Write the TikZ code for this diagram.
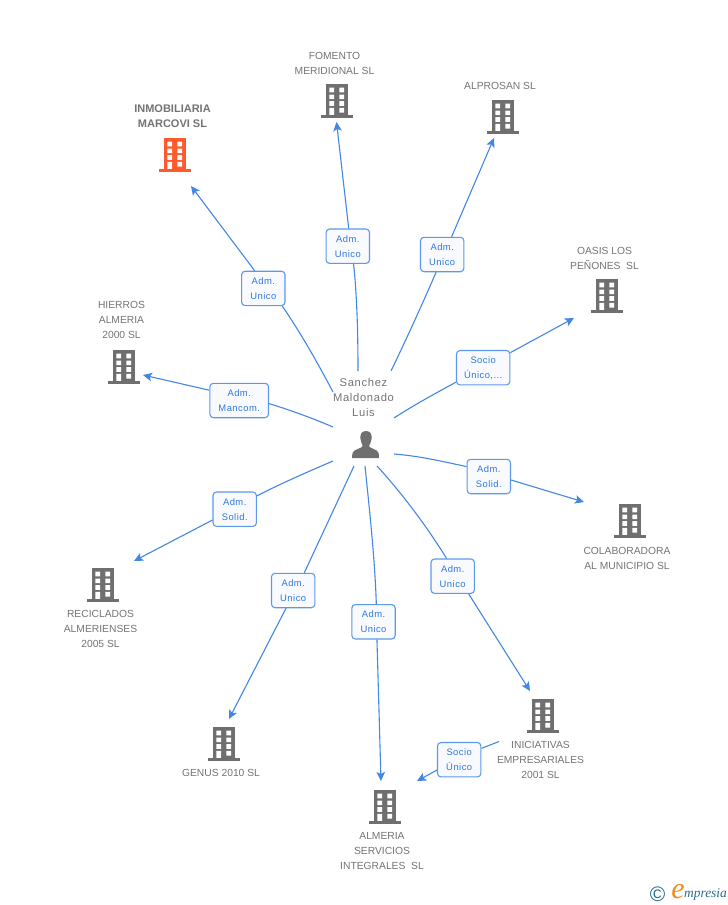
\documentclass[tikz,border=0pt]{standalone}
\usepackage{fontspec}
\usetikzlibrary{arrows.meta}
\setmainfont{Liberation Sans}
\newfontfamily\lblfont[LetterSpace=5]{Liberation Sans}
\newfontfamily\prsfont[LetterSpace=6]{Liberation Sans}
\newfontfamily\logofont{Liberation Serif}
\definecolor{linkblue}{HTML}{4286E6}
\definecolor{lbltext}{HTML}{2F78DC}
\definecolor{boxfill}{HTML}{F8FAFE}
\definecolor{grayicon}{HTML}{6F6F6F}
\definecolor{grtext}{HTML}{737373}
\definecolor{orangeicon}{HTML}{FF5A2C}
\definecolor{logoteal}{HTML}{2A6C86}
\definecolor{logoorange}{HTML}{F28A1E}
\tikzset{
  x=1pt,y=-1pt,
  conn/.style={draw=linkblue,line width=1.1pt},
  arr/.style={conn,-{Stealth[length=9pt,width=8.5pt,inset=2pt]}},
  rel/.style={draw=linkblue!85,fill=boxfill,rounded corners=3.5pt,line width=1.1pt,minimum width=43.4pt,minimum height=34.4pt,inner sep=0pt,align=center,text=lbltext,font=\lblfont\fontsize{9.4}{15}\selectfont},
  comp/.style={align=center,text=grtext,inner sep=0pt,font=\fontsize{10.3}{15}\selectfont},
  mainc/.style={comp,font=\bfseries\fontsize{11}{15}\selectfont},
  bld/.pic={
    \fill[pic actions] (-11.2,0) rectangle (11.2,30.5);
    \fill[white] (-7.6,3.7) rectangle (-2.8,8.4) (2.4,3.7) rectangle (7.2,8.4)
      (-7.6,10.5) rectangle (-2.8,15.2) (2.4,10.5) rectangle (7.2,15.2)
      (-7.6,17.2) rectangle (-2.8,21.9) (2.4,17.2) rectangle (7.2,21.9)
      (-7.6,23.8) rectangle (-2.8,31) (2.4,23.8) rectangle (7.2,28.5);
    \fill[pic actions] (-16,31) rectangle (16,33.8);
  }
}
\begin{document}
\begin{tikzpicture}
\useasboundingbox (0,0) rectangle (728,905);
% buildings
\pic[fill=orangeicon] at (175,138) {bld};
\pic[fill=grayicon] at (337,84) {bld};
\pic[fill=grayicon] at (503,100) {bld};
\pic[fill=grayicon] at (607,279) {bld};
\pic[fill=grayicon] at (630,504) {bld};
\pic[fill=grayicon] at (543,699) {bld};
\pic[fill=grayicon] at (385,790) {bld};
\pic[fill=grayicon] at (224,727) {bld};
\pic[fill=grayicon] at (103,568) {bld};
\pic[fill=grayicon] at (124,350) {bld};
% company names
\node[mainc] (inmo) at (172.5,116.5) {INMOBILIARIA\\MARCOVI SL};
\node[comp] (fome) at (334.5,63) {FOMENTO\\MERIDIONAL SL};
\node[comp] (alpr) at (500,86) {ALPROSAN SL};
\node[comp] (oasi) at (604.5,258) {OASIS LOS\\PEÑONES\ \ SL};
\node[comp] (cola) at (627,558) {COLABORADORA\\AL MUNICIPIO SL};
\node[comp] (inic) at (540.5,760) {INICIATIVAS\\EMPRESARIALES\\2001 SL};
\node[comp] (alme) at (382,851) {ALMERIA\\SERVICIOS\\INTEGRALES\ \ SL};
\node[comp] (genu) at (221,773) {GENUS 2010 SL};
\node[comp] (reci) at (100.5,629) {RECICLADOS\\ALMERIENSES\\2005 SL};
\node[comp] (hier) at (121.5,320) {HIERROS\\ALMERIA\\2000 SL};
% person
\node[align=center,text=grtext,inner sep=0pt,font=\prsfont\fontsize{11.2}{15}\selectfont] (pers) at (363.5,397) {Sanchez\\Maldonado\\Luis};
\fill[grayicon] (366,431) .. controls (361,431) and (360,435) .. (360.5,439)
  .. controls (361,442) and (362,444) .. (362.7,446)
  .. controls (362,448.5) and (354,449) .. (352.8,452.5)
  .. controls (352.3,454) and (352,456) .. (352,458) -- (379,458)
  .. controls (379,456) and (379,454) .. (378.4,452.5)
  .. controls (377,449) and (369.5,448.5) .. (369,446)
  .. controls (370,444) and (371,442) .. (371.5,439)
  .. controls (372,435) and (371,431) .. (366,431) -- cycle;
% relation labels
\node[rel] (l1) at (263.3,288.4) {Adm.\ \\Unico};
\node[rel] (l2) at (347.8,246.2) {Adm.\ \\Unico};
\node[rel] (l3) at (442.2,254.5) {Adm.\ \\Unico};
\node[rel,minimum width=53.4pt] (l4) at (483.2,367.7) {Socio\\Único,...};
\node[rel] (l5) at (488.8,476.5) {Adm.\ \\Solid.};
\node[rel] (l6) at (452.7,576.2) {Adm.\ \\Unico};
\node[rel] (l7) at (373.5,621.8) {Adm.\ \\Unico};
\node[rel] (l8) at (293.2,590.5) {Adm.\ \\Unico};
\node[rel] (l9) at (234.7,509.2) {Adm.\ \\Solid.};
\node[rel,minimum width=58.6pt] (l10) at (239.2,400.5) {Adm.\ \\Mancom.};
\node[rel] (l11) at (459.2,759.7) {Socio\\Único};
% free ends
\coordinate (s1) at (333,392); \coordinate (e1) at (191,186);
\coordinate (s2) at (358,371); \coordinate (e2) at (336.5,122);
\coordinate (s3) at (391,371); \coordinate (e3) at (494,138);
\coordinate (s4) at (394,418); \coordinate (e4) at (574,318);
\coordinate (s5) at (394,454); \coordinate (e5) at (584,502);
\coordinate (s6) at (377,466); \coordinate (e6) at (530,691);
\coordinate (s7) at (365,466); \coordinate (e7) at (381,781);
\coordinate (s8) at (354,466); \coordinate (e8) at (229,719);
\coordinate (s9) at (333,461); \coordinate (e9) at (134,561);
\coordinate (s10) at (333,427); \coordinate (e10) at (143,375);
\coordinate (s11) at (499,741.5); \coordinate (e11) at (417,781);
% connectors
\draw[conn] (s1) .. controls (315,358) and (300,332) .. (l1.-43);
\draw[arr] (l1.116.7) -- (e1);
\draw[conn] (s2) .. controls (358,335) and (357,295) .. (l2.-72);
\draw[arr] (l2.87.7) -- (e2);
\draw[conn] (s3) .. controls (405,342) and (422,305) .. (l3.-109);
\draw[arr] (l3.62.8) -- (e3);
\draw[conn] (s4) .. controls (414,405) and (436,393) .. (l4.-152);
\draw[arr] (l4.29.7) -- (e4);
\draw[conn] (s5) .. controls (420,456) and (445,462) .. (l5.156);
\draw[arr] (l5.-9) -- (e5);
\draw[conn] (s6) .. controls (400,491) and (426,525) .. (l6.109);
\draw[arr] (l6.-48) -- (e6);
\draw[conn] (s7) .. controls (369,505) and (375,560) .. (l7.81);
\draw[arr] (l7.-79) -- (e7);
\draw[conn] (s8) -- (l8.58);
\draw[arr] (l8.-112) -- (e8);
\draw[conn] (s9) .. controls (305,473) and (280,484) .. (l9.31);
\draw[arr] (l9.-154) -- (e9);
\draw[conn] (s10) .. controls (312,418) and (290,410) .. (l10.-6.8);
\draw[arr] (l10.161.6) -- (e10);
\draw[conn] (s11) -- (l11.27.4);
\draw[arr] (l11.-155) -- (e11);
% logo
\node[text=logoteal,inner sep=0pt,font=\fontsize{21}{21}\selectfont] (copy) at (657.5,894) {©};
\node[text=logoorange,inner sep=0pt,font=\logofont\itshape\fontsize{30}{30}\selectfont] (loge) at (678,892) {e};
\node[text=logoteal,inner sep=0pt,anchor=west,font=\logofont\itshape\fontsize{13.4}{15}\selectfont] (logt) at (684,894.5) {mpresia};
\end{tikzpicture}
\end{document}
